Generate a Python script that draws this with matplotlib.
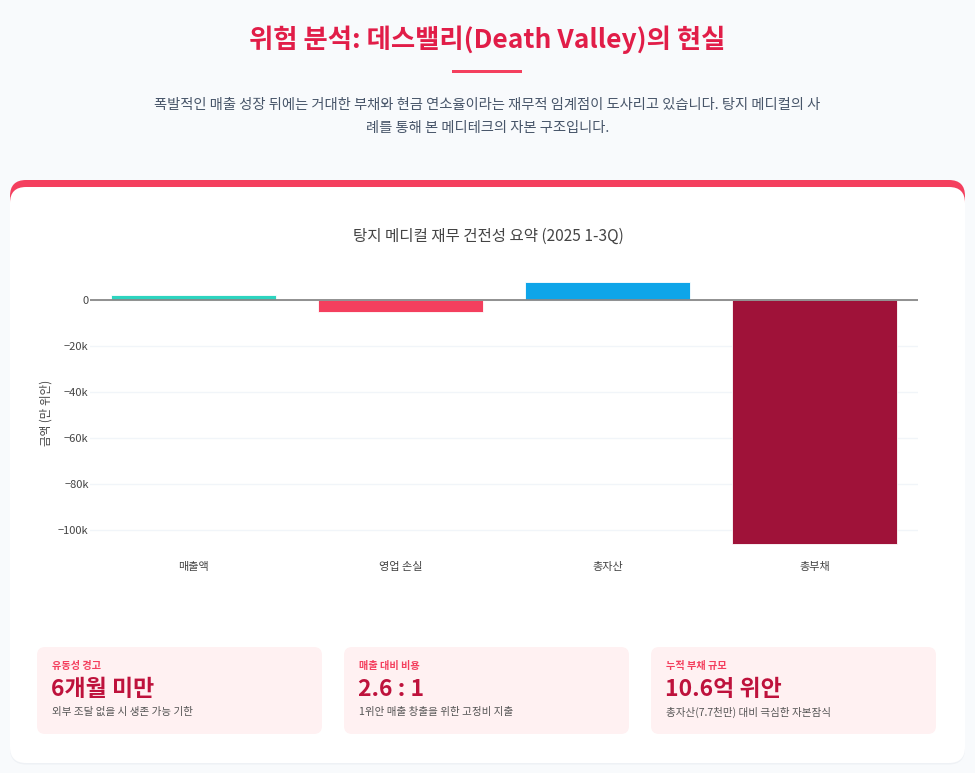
import matplotlib
matplotlib.use("Agg")
import matplotlib.pyplot as plt
from matplotlib.patches import FancyBboxPatch, Rectangle
from matplotlib.ticker import FuncFormatter

plt.rcParams['font.family'] = ['Noto Sans CJK KR', 'DejaVu Sans']

# data (만 위안)
categories = ['매출액', '영업 손실', '총자산', '총부채']
values = [2000, -5300, 7700, -106000]
bar_colors = ['#2dd4bf', '#f43f5e', '#0ea5e9', '#9f1239']
y_ticks = [0, -20000, -40000, -60000, -80000, -100000]

card_labels = ['유동성 경고', '매출 대비 비용', '누적 부채 규모']
card_values = ['6개월 미만', '2.6 : 1', '10.6억 위안']
card_notes = ['외부 조달 없을 시 생존 가능 기한',
              '1위안 매출 창출을 위한 고정비 지출',
              '총자산(7.7천만) 대비 극심한 자본잠식']

W, H = 975, 773
fig = plt.figure(figsize=(W / 100, H / 100), dpi=100)
fig.patch.set_facecolor('#f8fafc')


def fx(x):
    return x / W


def fy(y):
    return 1 - y / H


def box(x0, y0, x1, y1, color, pad=8, z=0):
    p = FancyBboxPatch((fx(x0), fy(y1)), fx(x1 - x0), (y1 - y0) / H,
                       boxstyle=f"round,pad=0,rounding_size={pad / W}",
                       transform=fig.transFigure, facecolor=color,
                       edgecolor='none', zorder=z, mutation_aspect=W / H)
    fig.patches.append(p)


# header
fig.text(0.5, fy(40), '위험 분석: 데스밸리(Death Valley)의 현실', ha='center', va='center',
         fontsize=19, fontweight='bold', color='#e11d48')
fig.patches.append(Rectangle((fx(452), fy(73)), fx(70), 3 / H, transform=fig.transFigure,
                             facecolor='#f43f5e', edgecolor='none'))
fig.text(0.5, fy(105), '폭발적인 매출 성장 뒤에는 거대한 부채와 현금 연소율이라는 재무적 임계점이 도사리고 있습니다. 탕지 메디컬의 사',
         ha='center', va='center', fontsize=10.3, color='#475569')
fig.text(0.5, fy(128), '례를 통해 본 메디테크의 자본 구조입니다.',
         ha='center', va='center', fontsize=10.3, color='#475569')

# main card with red top border
box(10, 181, 965, 764.5, '#eef1f5', pad=16, z=0)
box(10, 180, 965, 400, '#f43f5e', pad=16, z=1)
box(10, 187, 965, 763, '#ffffff', pad=16, z=2)

fig.text(fx(488), fy(236), '탕지 메디컬 재무 건전성 요약 (2025 1-3Q)', ha='center', va='center',
         fontsize=11.2, color='#444444')

# chart
ax = fig.add_axes([fx(90), fy(545), fx(828), (545 - 280) / H])
ax.set_facecolor('none')
ax.set_zorder(5)
ax.bar(range(len(categories)), values, width=0.8, color=bar_colors,
       edgecolor='#ffffff', linewidth=0.6, zorder=3)
ax.set_xlim(-0.5, len(categories) - 0.5)
ax.set_ylim(-106500, 8700)
ax.set_yticks(y_ticks)
ax.yaxis.set_major_formatter(FuncFormatter(lambda v, p: '0' if v == 0 else f'{int(v / 1000)}k'.replace('-', '−')))
ax.set_xticks(range(len(categories)))
ax.set_xticklabels(categories)
ax.grid(axis='y', color='#f1f5f9', linewidth=1, zorder=0)
ax.axhline(0, color='#888888', linewidth=1.3, zorder=4)
for s in ax.spines.values():
    s.set_visible(False)
ax.tick_params(axis='both', length=0, labelsize=8, colors='#444444')
ax.tick_params(axis='x', pad=12)
ax.tick_params(axis='y', pad=1)
ax.set_ylabel('금액 (만 위안)', fontsize=8.3, color='#444444', labelpad=4)

# stat cards
card_x = [37, 344, 651]
for i in range(3):
    x0 = card_x[i]
    box(x0, 647, x0 + 285, 734, '#fff1f2', pad=8, z=3)
    fig.text(fx(x0 + 15), fy(666), card_labels[i], ha='left', va='center',
             fontsize=7.3, fontweight='bold', color='#f43f5e', zorder=6)
    fig.text(fx(x0 + 14), fy(689), card_values[i], ha='left', va='center',
             fontsize=16.5, fontweight='bold', color='#be123c', zorder=6)
    fig.text(fx(x0 + 15), fy(712), card_notes[i], ha='left', va='center',
             fontsize=7.6, color='#555555', zorder=6)

fig.savefig('out.png', dpi=100, facecolor=fig.get_facecolor())
